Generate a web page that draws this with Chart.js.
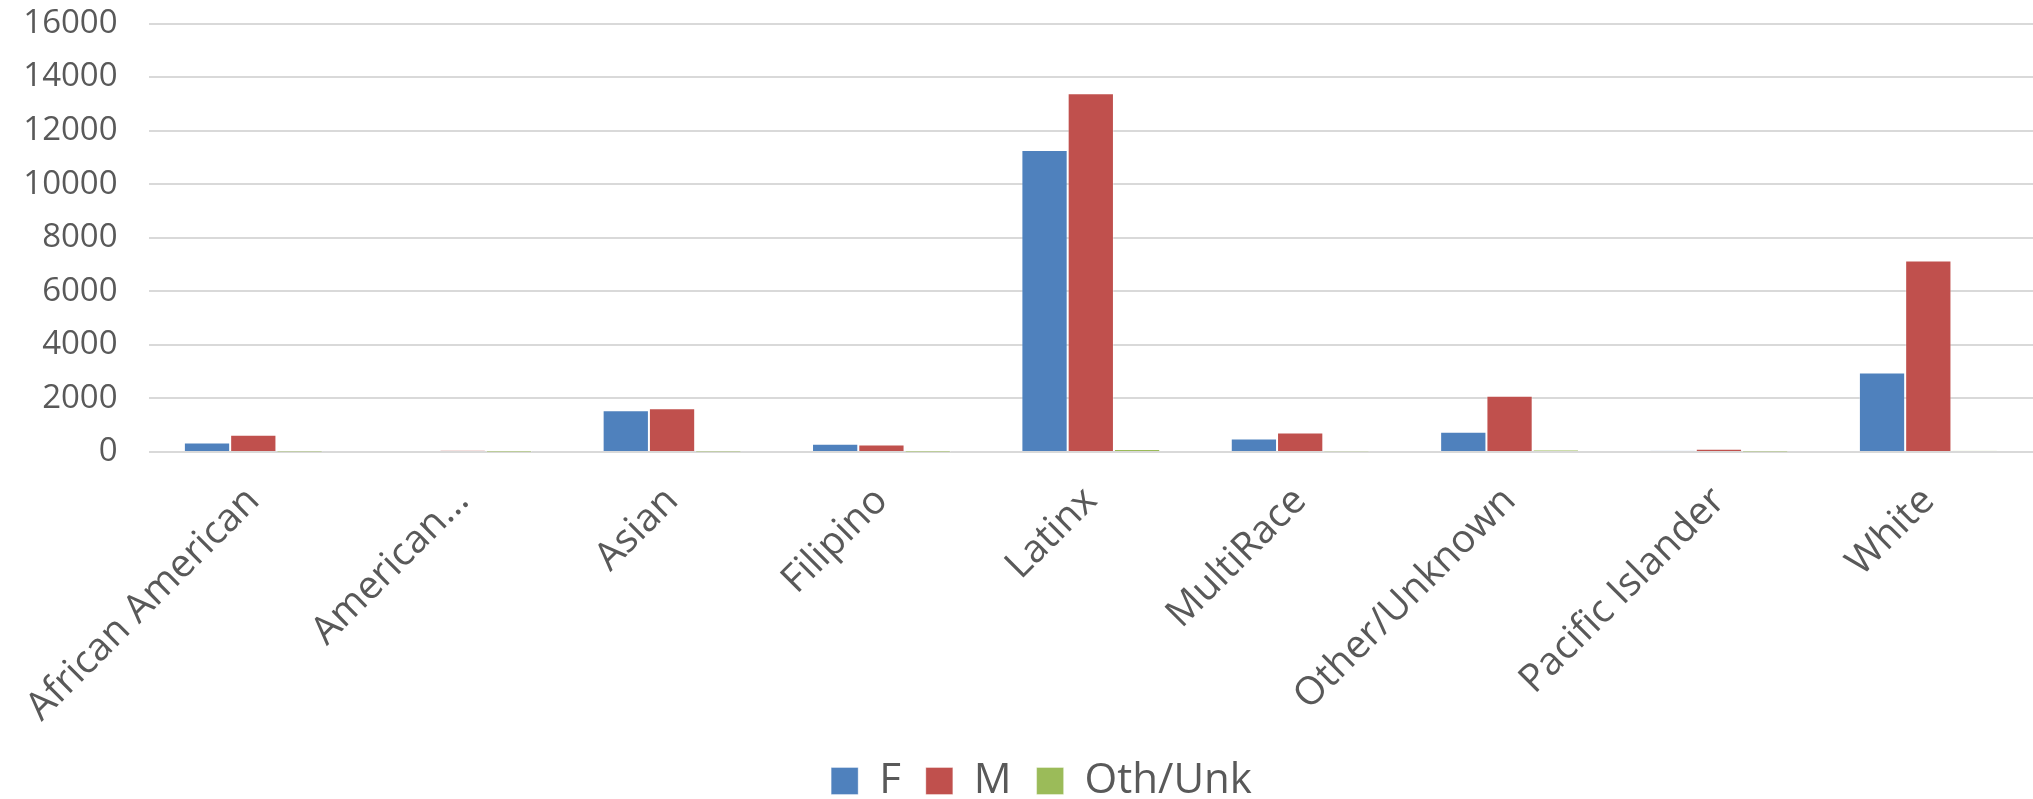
<!DOCTYPE html>
<html>
<head>
<meta charset="utf-8">
<script src="https://cdn.jsdelivr.net/npm/chart.js@4/dist/chart.umd.min.js"></script>
<style>
html,body{margin:0;padding:0;background:#fff;}
#c{display:block;}
</style>
</head>
<body>
<canvas id="c" width="2033" height="799"></canvas>
<script>
const categories = ["African American","American...","Asian","Filipino","Latinx","MultiRace","Other/Unknown","Pacific Islander","White"];
const seriesF = [356, 40, 1557, 308, 11273, 506, 758, 50, 2970];
const seriesM = [645, 65, 1632, 281, 13397, 731, 2101, 120, 7148];
const seriesOth = [8, 4, 8, 4, 110, 12, 75, 8, 50];
const seriesNames = ["F","M","Oth/Unk"];
const yTicks = [0,2000,4000,6000,8000,10000,12000,14000,16000];

const textColor = '#595959';
const fontFam = '"Open Sans", sans-serif';

const legendShift = {
  id: 'legendShift',
  afterLayout(chart) {
    const lg = chart.legend;
    if (!lg) return;
    lg.left += 22; lg.right += 22;
    lg.top += 13; lg.bottom += 13;
  }
};

new Chart(document.getElementById('c'), {
  type: 'bar',
  data: {
    labels: categories,
    datasets: [
      {label: seriesNames[0], data: seriesF, backgroundColor: '#4f81bd', borderColor: 'rgba(255,255,255,0.35)', borderWidth: 1},
      {label: seriesNames[1], data: seriesM, backgroundColor: '#c0504d', borderColor: 'rgba(255,255,255,0.35)', borderWidth: 1},
      {label: seriesNames[2], data: seriesOth, backgroundColor: '#9bbb59', borderColor: 'rgba(255,255,255,0.35)', borderWidth: 1}
    ]
  },
  plugins: [legendShift],
  options: {
    responsive: false,
    devicePixelRatio: 1,
    animation: false,
    layout: {padding: {top: 0, right: -6, left: 0, bottom: 0}},
    datasets: {bar: {categoryPercentage: 0.663, barPercentage: 1.0}},
    plugins: {
      legend: {
        position: 'bottom',
        labels: {
          color: textColor,
          font: {family: fontFam, size: 42},
          boxWidth: 27, boxHeight: 27,
          padding: 25
        }
      },
      tooltip: {enabled: false}
    },
    scales: {
      x: {
        grid: {display: false, drawTicks: false},
        border: {display: false},
        afterFit: (axis) => { axis.height = 270; },
        ticks: {
          color: textColor,
          font: {family: fontFam, size: 39},
          maxRotation: 45, minRotation: 45,
          autoSkip: false,
          padding: 26
        }
      },
      y: {
        min: 0, max: 16000,
        afterBuildTicks: (axis) => { axis.ticks = yTicks.map(v => ({value: v})); },
        afterFit: (axis) => { axis.width = 137; axis.paddingTop = 23.5; axis.paddingBottom = 20; },
        grid: {color: '#d9d9d9', lineWidth: 2, drawTicks: false},
        border: {display: false},
        ticks: {
          color: textColor,
          font: {family: fontFam, size: 33},
          padding: 31,
          callback: (v) => String(v)
        }
      }
    }
  }
});
</script>
</body>
</html>
